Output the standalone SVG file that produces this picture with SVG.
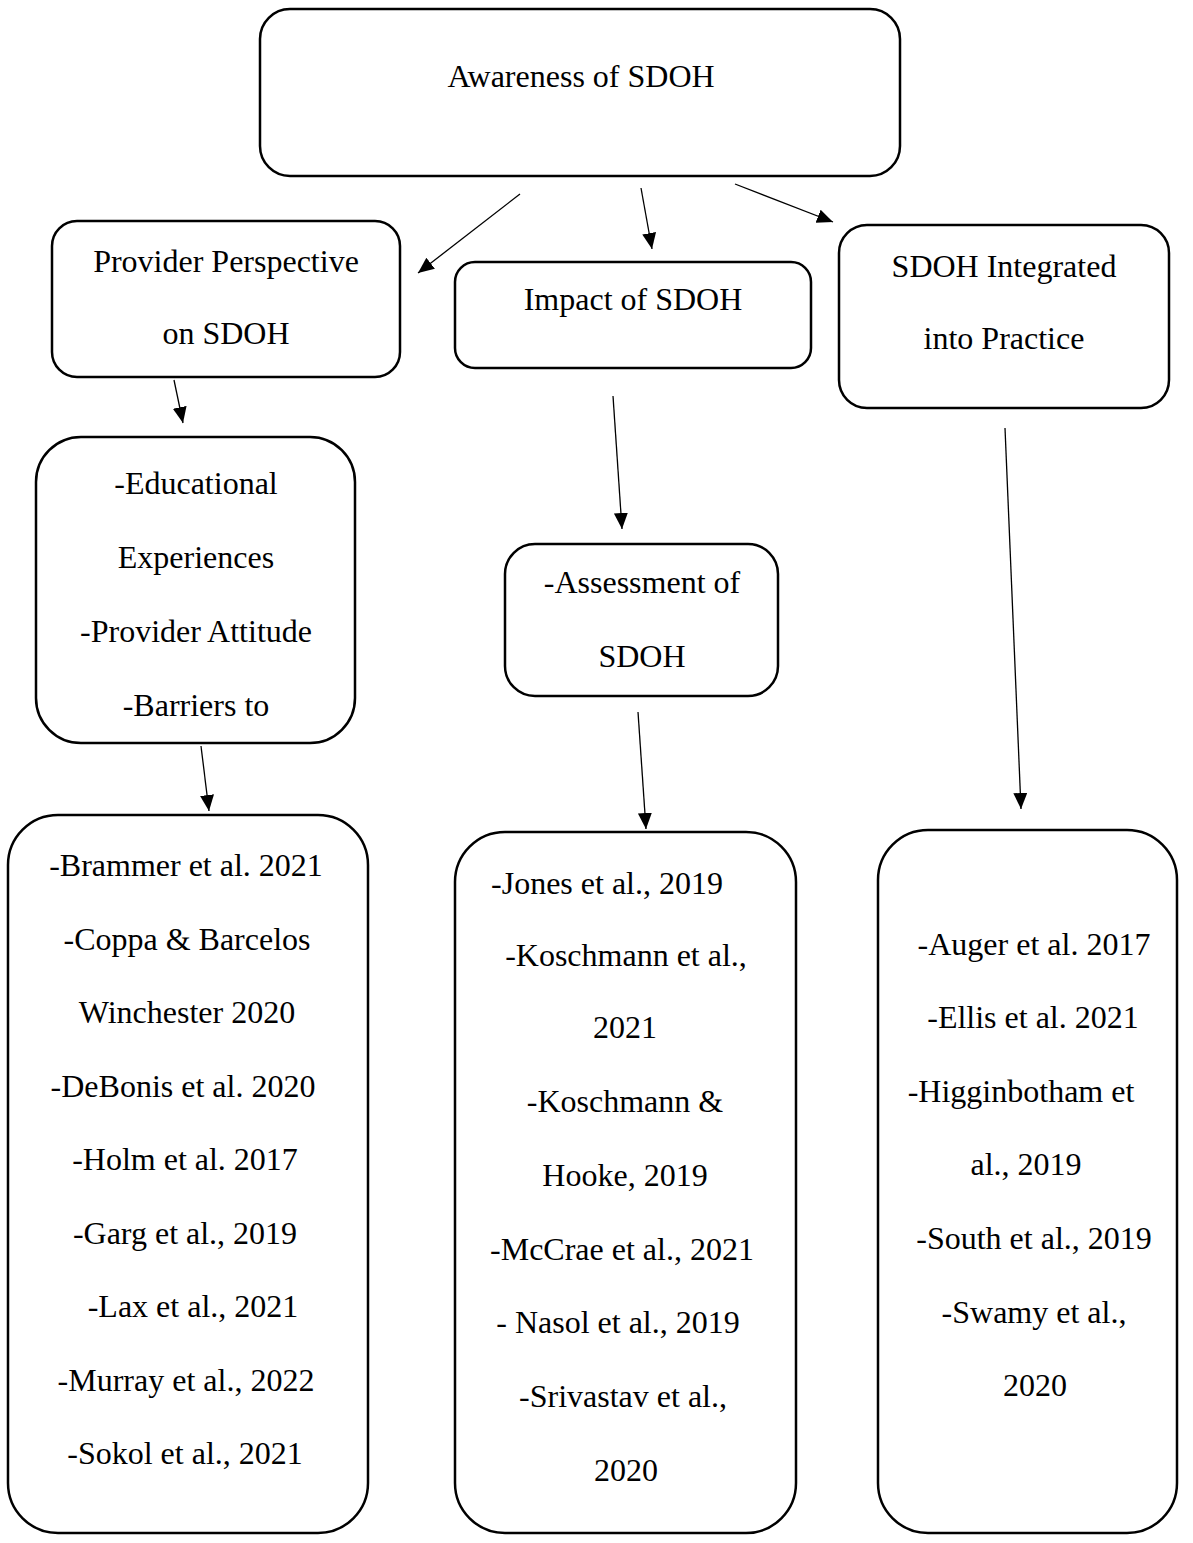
<svg xmlns="http://www.w3.org/2000/svg" width="1193" height="1543" viewBox="0 0 1193 1543">
<style>
.box{fill:#fff;stroke:#000;stroke-width:2.5}
.t{font-family:"Liberation Serif","Times New Roman",serif;font-size:32px;fill:#000;text-anchor:middle}
.c{stroke:#000;stroke-width:1.3;fill:none;marker-end:url(#ah)}
</style>
<defs>
<marker id="ah" markerUnits="userSpaceOnUse" markerWidth="17" markerHeight="15" refX="16" refY="7" orient="auto">
<path d="M0,0 L16,7 L0,14 z" fill="#000"/>
</marker>
</defs>
<rect width="1193" height="1543" fill="#fff"/>
<g id="connectors">
<line class="c" x1="520" y1="194" x2="418" y2="273"/>
<line class="c" x1="641" y1="188" x2="652" y2="249"/>
<line class="c" x1="735" y1="184" x2="833" y2="222"/>
<line class="c" x1="174" y1="380" x2="183" y2="423"/>
<line class="c" x1="613" y1="396" x2="622" y2="529"/>
<line class="c" x1="638" y1="712" x2="646" y2="829"/>
<line class="c" x1="1005" y1="428" x2="1021" y2="809"/>
<line class="c" x1="201" y1="746" x2="209" y2="811"/>
</g>
<g id="awareness">
<rect class="box" x="260" y="9" width="640" height="167" rx="30"/>
<text class="t" x="581" y="87">Awareness of SDOH</text>
</g>
<g id="provider">
<rect class="box" x="52" y="221" width="348" height="156" rx="25"/>
<text class="t" x="226" y="272">Provider Perspective</text>
<text class="t" x="226" y="344">on SDOH</text>
</g>
<g id="impact">
<rect class="box" x="455" y="262" width="356" height="106" rx="20"/>
<text class="t" x="633" y="310">Impact of SDOH</text>
</g>
<g id="integrated">
<rect class="box" x="839" y="225" width="330" height="183" rx="28"/>
<text class="t" x="1004" y="277">SDOH Integrated</text>
<text class="t" x="1004" y="349">into Practice</text>
</g>
<g id="educational">
<rect class="box" x="36" y="437" width="319" height="306" rx="45"/>
<text class="t" x="196" y="494">-Educational</text>
<text class="t" x="196" y="568">Experiences</text>
<text class="t" x="196" y="642">-Provider Attitude</text>
<text class="t" x="196" y="716">-Barriers to</text>
</g>
<g id="assessment">
<rect class="box" x="505" y="544" width="273" height="152" rx="30"/>
<text class="t" x="642" y="593">-Assessment of</text>
<text class="t" x="642" y="667">SDOH</text>
</g>
<g id="refs-left">
<rect class="box" x="8" y="815" width="360" height="718" rx="50"/>
<text class="t" x="186" y="876">-Brammer et al. 2021</text>
<text class="t" x="187" y="950">-Coppa &amp; Barcelos</text>
<text class="t" x="187" y="1023">Winchester 2020</text>
<text class="t" x="183" y="1097">-DeBonis et al. 2020</text>
<text class="t" x="185" y="1170">-Holm et al. 2017</text>
<text class="t" x="185" y="1244">-Garg et al., 2019</text>
<text class="t" x="193" y="1317">-Lax et al., 2021</text>
<text class="t" x="186" y="1391">-Murray et al., 2022</text>
<text class="t" x="185" y="1464">-Sokol et al., 2021</text>
</g>
<g id="refs-middle">
<rect class="box" x="455" y="832" width="341" height="701" rx="50"/>
<text class="t" x="607" y="894">-Jones et al., 2019</text>
<text class="t" x="626" y="966">-Koschmann et al.,</text>
<text class="t" x="625" y="1038">2021</text>
<text class="t" x="625" y="1112">-Koschmann &amp;</text>
<text class="t" x="625" y="1186">Hooke, 2019</text>
<text class="t" x="622" y="1260">-McCrae et al., 2021</text>
<text class="t" x="618" y="1333">- Nasol et al., 2019</text>
<text class="t" x="623" y="1407">-Srivastav et al.,</text>
<text class="t" x="626" y="1481">2020</text>
</g>
<g id="refs-right">
<rect class="box" x="878" y="830" width="299" height="703" rx="50"/>
<text class="t" x="1034" y="955">-Auger et al. 2017</text>
<text class="t" x="1033" y="1028">-Ellis et al. 2021</text>
<text class="t" x="1021" y="1102">-Higginbotham et</text>
<text class="t" x="1026" y="1175">al., 2019</text>
<text class="t" x="1034" y="1249">-South et al., 2019</text>
<text class="t" x="1034" y="1323">-Swamy et al.,</text>
<text class="t" x="1035" y="1396">2020</text>
</g>
</svg>
